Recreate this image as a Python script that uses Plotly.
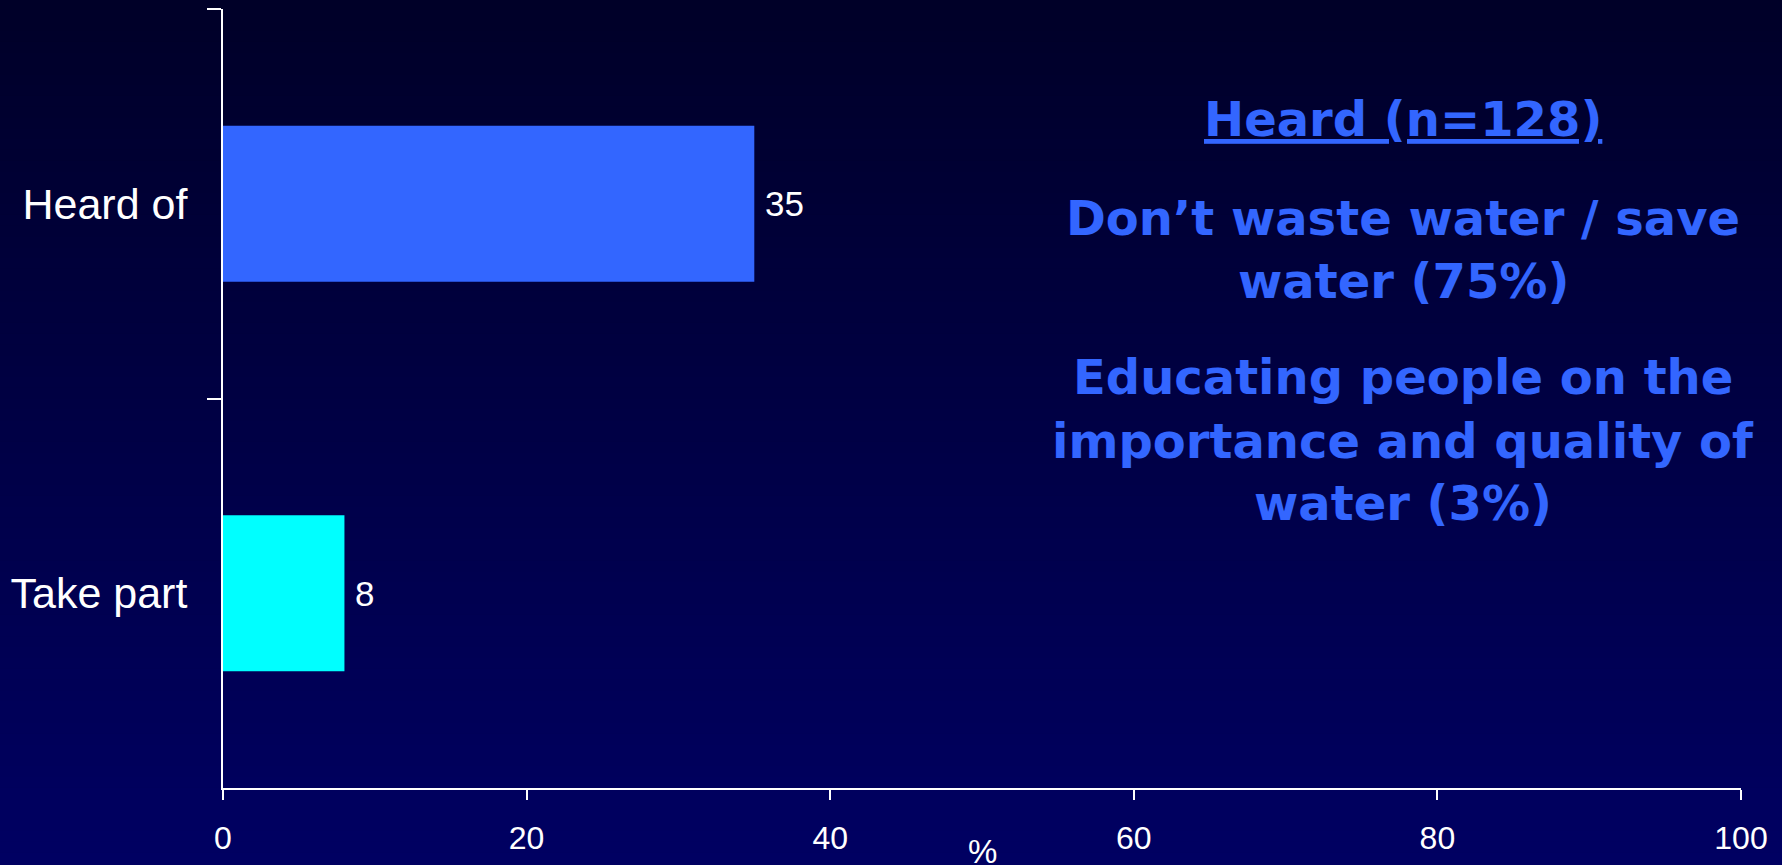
import plotly.graph_objects as go

# Survey results: share of respondents (%)
categories = ["Heard of", "Take part"]
values = [35, 8]
bar_colors = ["#3366FF", "#00FFFF"]
x_ticks = [0, 20, 40, 60, 80, 100]

# Side panel text (lines)
panel_title = "Heard (n=128)"
panel_lines = [
    "Don’t waste water / save",
    "water (75%)",
    "Educating people on the",
    "importance and quality of",
    "water (3%)",
]

W, H = 1782, 865
M_L, M_R, M_T, M_B = 223, 41, 9, 77
PW, PH = W - M_L - M_R, H - M_T - M_B

fig = go.Figure()
fig.add_trace(go.Bar(
    x=values, y=categories, orientation="h",
    marker=dict(color=bar_colors, line=dict(width=0)),
    width=0.4, hoverinfo="skip", showlegend=False,
))

# Value labels beside each bar
annotations = []
for c, v in zip(categories, values):
    annotations.append(dict(
        x=v, y=c, xref="x", yref="y", text=str(v), showarrow=False,
        xanchor="left", yanchor="middle", xshift=9,
        font=dict(family="Liberation Sans, Arial, sans-serif", size=35, color="white"),
    ))

# Axis unit label
annotations.append(dict(
    x=50, y=0, xref="x", yref="paper", text="%", showarrow=False,
    xanchor="center", yanchor="top", yshift=-43,
    font=dict(family="Liberation Sans, Arial, sans-serif", size=33, color="white"),
))

# Side panel
panel_font = dict(family="DejaVu Sans, Verdana, sans-serif", size=48, color="#3366FF")
cx = (1403 - M_L) / PW
line_px = [119, 218, 281, 377, 441, 503]
texts = ["<b><u>" + panel_title + "</u></b>"] + ["<b>" + t + "</b>" for t in panel_lines]
for t, ypx in zip(texts, line_px):
    annotations.append(dict(
        x=cx, y=(M_T + PH - ypx) / PH, xref="paper", yref="paper", text=t,
        showarrow=False, xanchor="center", yanchor="middle", font=panel_font,
    ))

# Vertical background gradient
shapes = []
n = 80
top_rgb = (0, 0, 40)
bot_rgb = (0, 0, 98)
y_lo = -M_B / PH
y_hi = 1 + M_T / PH
for i in range(n):
    f = i / (n - 1)
    r = round(top_rgb[0] + (bot_rgb[0] - top_rgb[0]) * f)
    g = round(top_rgb[1] + (bot_rgb[1] - top_rgb[1]) * f)
    b = round(top_rgb[2] + (bot_rgb[2] - top_rgb[2]) * f)
    y1 = y_hi - (y_hi - y_lo) * i / n
    y0 = y_hi - (y_hi - y_lo) * (i + 1) / n
    shapes.append(dict(
        type="rect", xref="paper", yref="paper",
        x0=-M_L / PW - 0.01, x1=1 + M_R / PW + 0.01, y0=y0 - 0.002, y1=y1 + 0.002,
        fillcolor=f"rgb({r},{g},{b})", line=dict(width=0), layer="below",
    ))

fig.update_layout(
    width=W, height=H,
    margin=dict(l=M_L, r=M_R, t=M_T, b=M_B, autoexpand=False),
    paper_bgcolor="rgb(0,0,70)", plot_bgcolor="rgba(0,0,0,0)",
    shapes=shapes, annotations=annotations,
    xaxis=dict(
        range=[0, 100], tickvals=x_ticks, ticks="outside", ticklen=10, tickwidth=2,
        tickcolor="white", showline=True, linecolor="white", linewidth=2,
        showgrid=False, zeroline=False, ticklabelstandoff=11,
        tickfont=dict(family="Liberation Sans, Arial, sans-serif", size=32, color="white"),
        fixedrange=True,
    ),
    yaxis=dict(
        type="category", categoryorder="array", categoryarray=categories,
        autorange=False, range=[1.5, -0.5],
        ticks="outside", ticklen=14, tickwidth=2, tickcolor="white",
        tickson="boundaries", ticklabelstandoff=25,
        showline=True, linecolor="white", linewidth=2,
        showgrid=False, zeroline=False,
        tickfont=dict(family="Liberation Sans, Arial, sans-serif", size=43, color="white"),
        fixedrange=True,
    ),
    bargap=0.6,
)

fig.write_html("out.html", config={"displayModeBar": False})
